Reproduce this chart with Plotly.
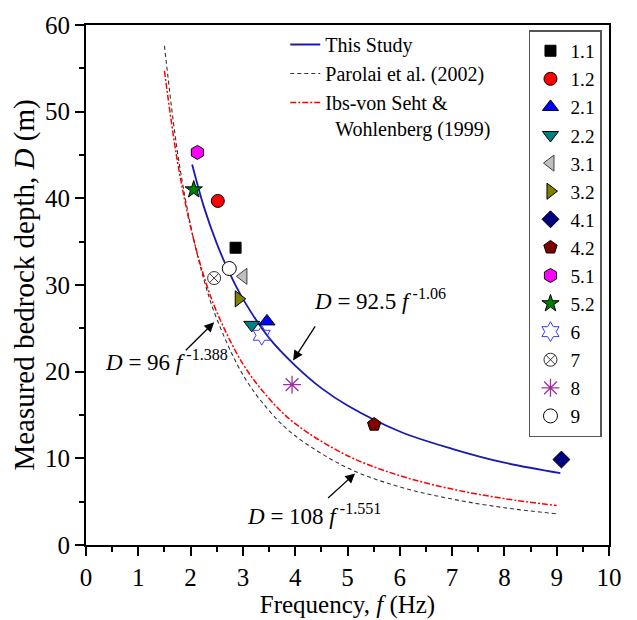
import plotly.graph_objects as go

# ---- fitted curves ----
study_f = [2.03, 2.25, 2.5, 2.75, 3.0, 3.5, 4.0, 4.5, 5.0, 6.0, 7.0, 8.0, 9.07]
study_d = [43.9, 39.1, 34.8, 31.3, 28.4, 23.9, 20.7, 18.1, 16.1, 13.1, 11.1, 9.5, 8.3]

parolai_f = [1.5, 1.75, 2.0, 2.25, 2.5, 3.0, 3.5, 4.0, 5.0, 6.0, 7.0, 8.0, 9.0]
parolai_d = [57.6, 45.3, 36.9, 30.7, 26.1, 19.65, 15.5, 12.6, 8.9, 6.7, 5.3, 4.3, 3.6]

ibs_f = [1.5, 1.75, 2.0, 2.25, 2.5, 3.0, 3.5, 4.0, 5.0, 6.0, 7.0, 8.0, 9.0]
ibs_d = [54.7, 44.2, 36.7, 31.1, 26.9, 20.9, 16.9, 14.0, 10.3, 8.0, 6.45, 5.35, 4.55]

# ---- measured sites ----
site_labels = ["1.1", "1.2", "2.1", "2.2", "3.1", "3.2", "4.1", "4.2", "5.1", "5.2", "6", "7", "8", "9"]
site_f = [2.86, 2.52, 3.46, 3.17, 3.01, 2.92, 9.09, 5.51, 2.13, 2.06, 3.36, 2.45, 3.94, 2.74]
site_d = [34.3, 39.7, 25.8, 25.4, 31.0, 28.4, 9.86, 13.9, 45.3, 41.0, 24.2, 30.8, 18.5, 31.9]

x_ticks = list(range(0, 11))
y_ticks = list(range(0, 61, 10))

styles = {
    "1.1": dict(symbol="square", color="#000000", line=dict(color="#000000", width=1), size=11),
    "1.2": dict(symbol="circle", color="#ff0000", line=dict(color="#000000", width=1), size=13),
    "2.1": dict(symbol="triangle-up", color="#0000ff", line=dict(color="#000000", width=1), size=14),
    "2.2": dict(symbol="triangle-down", color="#008080", line=dict(color="#000000", width=1), size=14),
    "3.1": dict(symbol="triangle-left", color="#c0c0c0", line=dict(color="#404040", width=1), size=14),
    "3.2": dict(symbol="triangle-right", color="#808000", line=dict(color="#000000", width=1), size=14),
    "4.1": dict(symbol="diamond", color="#000080", line=dict(color="#000000", width=1), size=13),
    "4.2": dict(symbol="pentagon", color="#800000", line=dict(color="#000000", width=1), size=14),
    "5.1": dict(symbol="hexagon", color="#ff00ff", line=dict(color="#000000", width=1), size=14),
    "5.2": dict(symbol="star", color="#008000", line=dict(color="#000000", width=1), size=13),
    "6": dict(symbol="hexagram-open", color="#3a3aff", line=dict(color="#3a3aff", width=1), size=15),
    "7": dict(symbol="circle-x-open", color="#303030", line=dict(color="#303030", width=1), size=13),
    "8": dict(symbol="asterisk-open", color="#a030a0", line=dict(color="#a030a0", width=1.3), size=15),
    "9": dict(symbol="circle", color="#ffffff", line=dict(color="#000000", width=1), size=14),
}

FONT = "Liberation Serif"

fig = go.Figure()

fig.add_trace(go.Scatter(x=study_f, y=study_d, mode="lines", name="This Study",
                         line=dict(color="#1a1ab0", width=1.8, shape="spline"), legend="legend"))
fig.add_trace(go.Scatter(x=parolai_f, y=parolai_d, mode="lines", name="Parolai et al. (2002)",
                         line=dict(color="#333333", width=1.1, dash="4px,3px", shape="spline"), legend="legend"))
fig.add_trace(go.Scatter(x=ibs_f, y=ibs_d, mode="lines",
                         name="Ibs-von Seht &amp;<br>&nbsp;&nbsp;Wohlenberg (1999)",
                         line=dict(color="#ff0000", width=1.5, dash="6px,2px,2px,2px", shape="spline"),
                         legend="legend"))

for lab, fx, dy in zip(site_labels, site_f, site_d):
    s = styles[lab]
    fig.add_trace(go.Scatter(x=[fx], y=[dy], mode="markers", name=lab, legend="legend2",
                             marker=dict(symbol=s["symbol"], color=s["color"], size=s["size"], line=s["line"])))

ann_font = dict(family=FONT, size=23, color="black")
fig.add_annotation(x=4.32, y=28.3, xref="x", yref="y", xanchor="left", yanchor="middle",
                   text="<i>D</i> = 92.5 <i>f</i><sup> -1.06</sup>", showarrow=False, font=ann_font)
fig.add_annotation(x=0.33, y=21.3, xref="x", yref="y", xanchor="left", yanchor="middle",
                   text="<i>D</i> = 96 <i>f</i><sup> -1.388</sup>", showarrow=False, font=ann_font)
fig.add_annotation(x=3.04, y=3.5, xref="x", yref="y", xanchor="left", yanchor="middle",
                   text="<i>D</i> = 108 <i>f</i><sup> -1.551</sup>", showarrow=False, font=ann_font)

arrows = [((3.96, 21.3), (4.40, 25.4)), ((2.45, 25.7), (1.88, 22.3)), ((5.145, 8.26), (4.60, 5.27))]
for (hx, hy), (tx, ty) in arrows:
    fig.add_annotation(x=hx, y=hy, ax=tx, ay=ty, xref="x", yref="y", axref="x", ayref="y",
                       text="", showarrow=True, arrowhead=2, arrowsize=1.5, arrowwidth=1.3,
                       arrowcolor="black", standoff=0, startstandoff=0)

axis_common = dict(showgrid=False, zeroline=False, showline=True, linecolor="black", linewidth=1.8,
                   mirror=True, ticks="outside", ticklen=9, tickwidth=1.8, tickcolor="black",
                   tickfont=dict(family=FONT, size=25, color="black"))

fig.update_xaxes(range=[0, 10], tickvals=x_ticks, ticktext=[str(v) for v in x_ticks],
                 minor=dict(ticks="outside", dtick=0.5, ticklen=5, tickwidth=1.5, tickcolor="black"),
                 title=dict(text="Frequency, <i>f</i> (Hz)", font=dict(family=FONT, size=25, color="black"),
                            standoff=0),
                 **axis_common)
fig.update_yaxes(range=[0, 60], tickvals=y_ticks, ticktext=[str(v) for v in y_ticks],
                 minor=dict(ticks="outside", dtick=5, ticklen=5, tickwidth=1.5, tickcolor="black"),
                 title=dict(text="Measured bedrock depth, <i>D</i> (m)",
                            font=dict(family=FONT, size=29, color="black"), standoff=2),
                 **axis_common)

fig.update_layout(
    width=637, height=620,
    margin=dict(l=86, r=28, t=16, b=68),
    paper_bgcolor="white", plot_bgcolor="white",
    font=dict(family=FONT, color="black"),
    legend=dict(x=0.381, y=1.0, xanchor="left", yanchor="top", bgcolor="rgba(0,0,0,0)",
                borderwidth=0, font=dict(family=FONT, size=20, color="black"), valign="top",
                tracegroupgap=0),
    legend2=dict(x=0.847, y=0.99, xanchor="left", yanchor="top", bgcolor="white",
                 bordercolor="#555555", borderwidth=1.5,
                 font=dict(family=FONT, size=19.3, color="black"), tracegroupgap=0),
    showlegend=True,
)

fig.write_html("out.html")
